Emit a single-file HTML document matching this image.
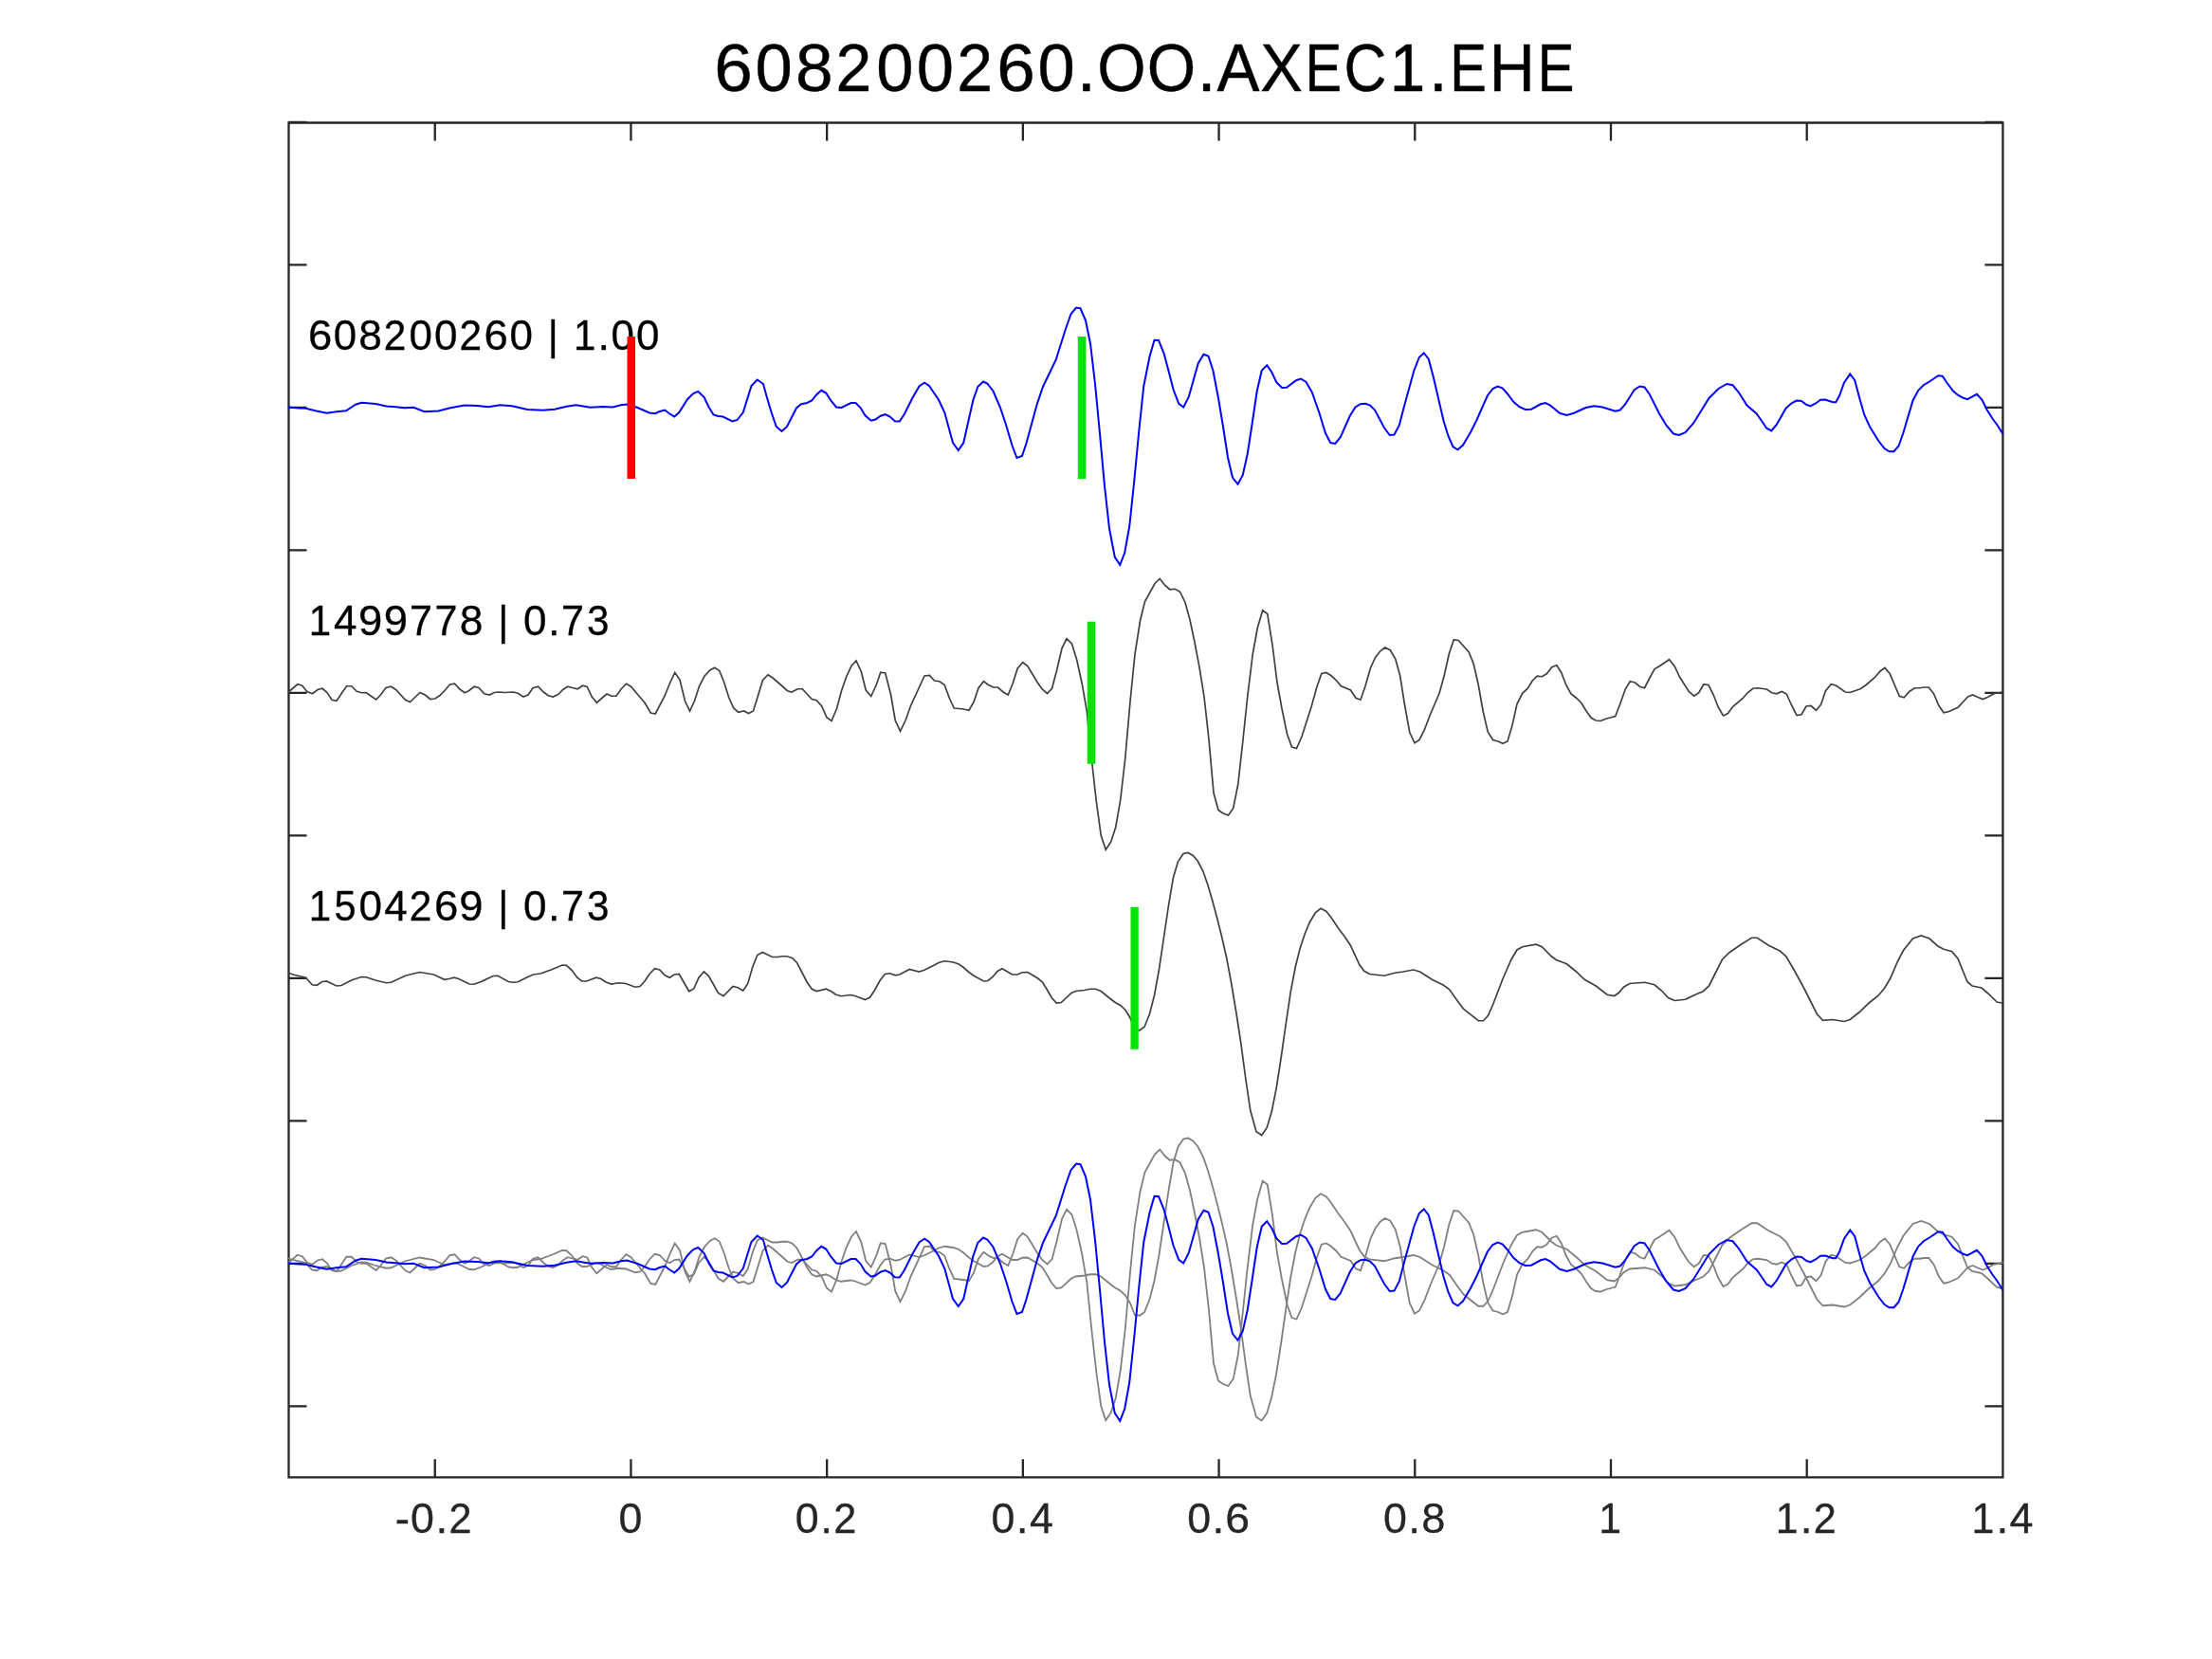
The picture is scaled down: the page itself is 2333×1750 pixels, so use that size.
<!DOCTYPE html>
<html><head><meta charset="utf-8"><style>
html,body{margin:0;padding:0;background:#fff;width:2333px;height:1750px;overflow:hidden}
svg{display:block;font-family:"Liberation Sans",sans-serif;-webkit-font-smoothing:antialiased}
svg{will-change:transform}
</style></head><body>
<svg width="2333" height="1750" viewBox="0 0 2333 1750">
<rect width="2333" height="1750" fill="#fff"/>
<text class="t" transform="matrix(1.0336 0 0 1 753.29 96.0)" font-size="70.6" fill="#000" stroke="#000" stroke-width="0.387">6</text><text class="t" transform="matrix(0.9986 0 0 1 796.54 96.0)" font-size="70.6" fill="#000" stroke="#000" stroke-width="0.401">0</text><text class="t" transform="matrix(1.0095 0 0 1 838.88 96.0)" font-size="70.6" fill="#000" stroke="#000" stroke-width="0.396">8</text><text class="t" transform="matrix(0.9626 0 0 1 881.47 96.0)" font-size="70.6" fill="#000" stroke="#000" stroke-width="0.416">2</text><text class="t" transform="matrix(0.9986 0 0 1 924.20 96.0)" font-size="70.6" fill="#000" stroke="#000" stroke-width="0.401">0</text><text class="t" transform="matrix(0.9986 0 0 1 966.75 96.0)" font-size="70.6" fill="#000" stroke="#000" stroke-width="0.401">0</text><text class="t" transform="matrix(0.9626 0 0 1 1009.13 96.0)" font-size="70.6" fill="#000" stroke="#000" stroke-width="0.416">2</text><text class="t" transform="matrix(1.0336 0 0 1 1051.17 96.0)" font-size="70.6" fill="#000" stroke="#000" stroke-width="0.387">6</text><text class="t" transform="matrix(0.9986 0 0 1 1094.41 96.0)" font-size="70.6" fill="#000" stroke="#000" stroke-width="0.401">0</text><text class="t" transform="matrix(1.0251 0 0 1 1135.85 96.0)" font-size="70.6" fill="#000" stroke="#000" stroke-width="0.390">.</text><text class="t" transform="matrix(0.9365 0 0 1 1157.19 96.0)" font-size="70.6" fill="#000" stroke="#000" stroke-width="0.427">O</text><text class="t" transform="matrix(0.9365 0 0 1 1209.84 96.0)" font-size="70.6" fill="#000" stroke="#000" stroke-width="0.427">O</text><text class="t" transform="matrix(1.0251 0 0 1 1262.40 96.0)" font-size="70.6" fill="#000" stroke="#000" stroke-width="0.390">.</text><text class="t" transform="matrix(0.9543 0 0 1 1283.51 96.0)" font-size="70.6" fill="#000" stroke="#000" stroke-width="0.419">A</text><text class="t" transform="matrix(0.9481 0 0 1 1329.36 96.0)" font-size="70.6" fill="#000" stroke="#000" stroke-width="0.422">X</text><text class="t" transform="matrix(0.8210 0 0 1 1376.50 96.0)" font-size="70.6" fill="#000" stroke="#000" stroke-width="0.487">E</text><text class="t" transform="matrix(0.8794 0 0 1 1417.55 96.0)" font-size="70.6" fill="#000" stroke="#000" stroke-width="0.455">C</text><text class="t" transform="matrix(0.9538 0 0 1 1465.87 96.0)" font-size="70.6" fill="#000" stroke="#000" stroke-width="0.419">1</text><text class="t" transform="matrix(1.0251 0 0 1 1506.75 96.0)" font-size="70.6" fill="#000" stroke="#000" stroke-width="0.390">.</text><text class="t" transform="matrix(0.8210 0 0 1 1529.28 96.0)" font-size="70.6" fill="#000" stroke="#000" stroke-width="0.487">E</text><text class="t" transform="matrix(0.9424 0 0 1 1570.83 96.0)" font-size="70.6" fill="#000" stroke="#000" stroke-width="0.424">H</text><text class="t" transform="matrix(0.8210 0 0 1 1621.83 96.0)" font-size="70.6" fill="#000" stroke="#000" stroke-width="0.487">E</text>
<path d="M304.5 129.5 L2112.4 129.5 L2112.4 1558.3 L304.5 1558.3 Z M458.74 1558.3 L458.74 1539.3 M458.74 129.5 L458.74 148.5 M665.45 1558.3 L665.45 1539.3 M665.45 129.5 L665.45 148.5 M872.16 1558.3 L872.16 1539.3 M872.16 129.5 L872.16 148.5 M1078.86 1558.3 L1078.86 1539.3 M1078.86 129.5 L1078.86 148.5 M1285.57 1558.3 L1285.57 1539.3 M1285.57 129.5 L1285.57 148.5 M1492.28 1558.3 L1492.28 1539.3 M1492.28 129.5 L1492.28 148.5 M1698.99 1558.3 L1698.99 1539.3 M1698.99 129.5 L1698.99 148.5 M1905.69 1558.3 L1905.69 1539.3 M1905.69 129.5 L1905.69 148.5 M2112.40 1558.3 L2112.40 1539.3 M2112.40 129.5 L2112.40 148.5 M304.5 128.90 L323.5 128.90 M2112.4 128.90 L2093.4 128.90 M304.5 279.40 L323.5 279.40 M2112.4 279.40 L2093.4 279.40 M304.5 429.90 L323.5 429.90 M2112.4 429.90 L2093.4 429.90 M304.5 580.40 L323.5 580.40 M2112.4 580.40 L2093.4 580.40 M304.5 730.90 L323.5 730.90 M2112.4 730.90 L2093.4 730.90 M304.5 881.40 L323.5 881.40 M2112.4 881.40 L2093.4 881.40 M304.5 1031.90 L323.5 1031.90 M2112.4 1031.90 L2093.4 1031.90 M304.5 1182.40 L323.5 1182.40 M2112.4 1182.40 L2093.4 1182.40 M304.5 1332.90 L323.5 1332.90 M2112.4 1332.90 L2093.4 1332.90 M304.5 1483.40 L323.5 1483.40 M2112.4 1483.40 L2093.4 1483.40" fill="none" stroke="#262626" stroke-width="2.3" stroke-linecap="butt"/>
<g fill="none" stroke-linejoin="miter" stroke-linecap="butt">
<path d="M303.75 429.50 L315.00 430.50 L322.50 430.75 L332.50 433.25 L344.50 435.75 L355.00 434.25 L365.00 433.25 L375.00 426.75 L381.25 424.75 L396.25 426.00 L407.50 428.50 L417.50 429.25 L426.25 430.25 L436.25 429.75 L447.50 434.25 L462.50 433.50 L475.00 430.25 L490.00 427.50 L503.75 428.00 L515.00 429.25 L527.50 427.25 L540.00 428.25 L556.25 432.00 L572.50 432.75 L585.00 431.75 L597.50 428.75 L607.50 427.25 L622.50 429.75 L636.25 429.00 L646.25 429.50 L655.00 427.25 L661.25 426.50 L672.50 430.00 L685.00 435.50 L691.25 436.25 L695.00 434.25 L701.25 432.50 L705.00 435.50 L711.25 439.50 L716.25 435.00 L725.00 421.25 L731.25 415.00 L736.25 413.00 L742.50 418.75 L747.50 429.25 L752.50 437.50 L757.50 439.00 L762.50 439.50 L772.50 444.50 L777.50 443.00 L783.75 435.00 L792.50 407.00 L798.75 400.50 L805.00 405.00 L808.75 418.75 L813.75 435.50 L818.75 450.00 L824.50 455.00 L830.00 450.00 L840.00 430.50 L845.00 426.25 L851.25 425.00 L856.25 422.50 L861.25 416.25 L866.25 411.75 L871.25 414.50 L876.25 422.50 L882.00 429.50 L887.50 430.00 L897.50 425.00 L902.50 425.00 L907.50 430.00 L912.50 438.25 L918.75 443.75 L923.25 442.50 L928.75 438.75 L933.75 437.00 L938.75 439.50 L943.75 444.25 L948.75 444.50 L953.75 437.00 L962.50 419.50 L969.50 407.50 L975.00 403.75 L980.00 407.00 L990.00 421.75 L996.25 435.00 L1005.00 467.00 L1010.75 475.00 L1016.25 467.00 L1026.25 422.50 L1031.25 408.00 L1037.00 402.50 L1041.25 404.50 L1047.50 412.50 L1055.00 430.00 L1061.25 448.75 L1067.50 470.00 L1072.50 483.00 L1078.00 481.00 L1082.50 467.50 L1093.75 426.25 L1100.00 408.00 L1105.00 397.50 L1113.75 379.50 L1123.75 347.50 L1129.50 331.25 L1135.00 324.50 L1139.50 325.25 L1145.00 338.00 L1150.00 362.50 L1155.00 405.00 L1160.00 457.50 L1165.00 512.50 L1170.00 557.50 L1175.75 587.50 L1181.25 595.75 L1186.25 583.00 L1191.25 555.00 L1196.25 507.50 L1201.25 455.00 L1206.25 407.50 L1212.50 376.25 L1217.50 358.75 L1222.00 359.00 L1227.50 372.50 L1232.50 391.25 L1237.50 410.75 L1243.25 425.75 L1248.25 429.50 L1253.75 418.75 L1263.75 383.25 L1269.50 373.75 L1274.50 375.75 L1279.50 391.25 L1285.00 420.00 L1290.00 450.00 L1295.00 482.50 L1300.00 503.75 L1305.50 510.75 L1310.75 501.25 L1315.75 478.75 L1320.75 446.25 L1325.75 412.50 L1330.75 390.75 L1336.25 385.25 L1341.25 392.50 L1346.25 403.25 L1352.00 409.00 L1357.00 408.75 L1367.00 401.25 L1372.00 399.50 L1377.50 403.00 L1383.75 413.75 L1391.25 435.00 L1398.00 457.00 L1403.25 467.00 L1408.25 468.00 L1413.75 461.25 L1423.75 438.75 L1429.50 429.50 L1435.00 426.25 L1440.00 425.75 L1445.00 427.50 L1450.00 432.50 L1460.00 451.25 L1465.75 459.00 L1470.50 458.50 L1475.75 448.75 L1481.25 427.50 L1491.25 391.25 L1496.75 377.00 L1501.75 372.50 L1506.75 378.75 L1511.75 397.50 L1522.50 443.75 L1527.50 460.00 L1532.50 471.25 L1537.50 474.25 L1543.00 469.50 L1551.25 455.50 L1557.50 443.00 L1568.75 417.50 L1574.50 410.00 L1579.50 407.50 L1584.50 409.25 L1590.00 415.50 L1596.25 423.75 L1602.50 429.25 L1608.75 432.00 L1615.00 431.75 L1625.00 426.25 L1630.00 425.00 L1635.00 427.50 L1645.00 435.75 L1652.50 438.00 L1660.00 435.75 L1672.50 430.00 L1681.25 428.25 L1690.00 429.50 L1703.75 433.75 L1708.75 432.50 L1713.75 427.00 L1723.75 411.25 L1729.50 407.50 L1734.50 408.50 L1740.00 416.25 L1750.00 436.25 L1757.50 448.75 L1765.00 457.50 L1770.75 459.00 L1777.50 456.25 L1786.25 446.25 L1802.50 420.00 L1812.50 410.00 L1821.25 405.00 L1827.50 406.25 L1833.75 413.75 L1842.50 427.50 L1852.50 436.25 L1858.75 445.00 L1863.25 451.75 L1868.25 454.50 L1873.75 448.00 L1883.75 430.50 L1890.00 425.00 L1895.00 422.50 L1900.00 423.00 L1905.00 426.75 L1909.50 428.50 L1915.00 425.50 L1920.00 421.75 L1925.00 421.50 L1933.00 424.25 L1936.25 424.25 L1940.00 417.50 L1945.00 403.75 L1951.25 394.50 L1956.25 401.25 L1961.25 420.00 L1966.25 437.50 L1972.00 450.00 L1981.25 465.00 L1987.50 473.00 L1992.50 476.25 L1997.50 476.25 L2002.50 470.50 L2007.50 456.25 L2017.50 422.50 L2023.25 411.75 L2028.75 406.25 L2035.00 402.50 L2044.25 396.25 L2048.75 396.75 L2053.75 404.25 L2060.00 412.50 L2065.00 416.75 L2070.00 419.50 L2075.00 421.25 L2085.00 415.75 L2090.50 421.75 L2095.50 432.00 L2101.25 441.25 L2106.25 448.00 L2112.50 458.00" stroke="#0000ff" stroke-width="2"/>
<path d="M303.75 730.50 L313.75 721.75 L318.75 723.25 L323.75 729.50 L329.50 731.75 L335.00 727.50 L340.00 726.25 L345.00 730.50 L350.00 738.25 L355.00 739.25 L365.50 723.75 L370.75 723.75 L376.25 729.25 L381.25 730.75 L386.25 730.50 L391.25 734.25 L396.75 738.00 L401.25 733.25 L407.00 725.50 L412.50 724.25 L417.50 727.50 L427.50 738.25 L432.50 740.50 L437.50 735.75 L443.00 730.50 L448.75 733.25 L453.75 737.50 L458.75 737.00 L463.75 733.75 L469.25 728.25 L474.50 722.00 L479.50 721.25 L485.00 727.00 L490.00 730.75 L494.50 728.75 L500.00 724.25 L505.00 725.50 L510.75 731.75 L516.25 733.00 L521.25 730.50 L526.25 730.00 L532.50 730.50 L541.25 730.00 L546.25 731.25 L552.00 735.00 L557.00 733.00 L562.00 725.75 L567.50 724.25 L573.25 730.00 L578.25 733.75 L583.25 735.00 L588.75 732.50 L593.75 727.50 L598.75 724.25 L603.75 725.50 L609.25 726.75 L614.50 723.25 L619.25 724.50 L624.25 735.00 L629.50 741.25 L635.00 736.25 L640.00 732.00 L645.00 734.25 L650.00 734.25 L655.00 727.00 L660.50 721.25 L665.50 724.25 L672.50 732.50 L680.00 741.25 L686.25 752.00 L691.25 753.00 L701.25 733.75 L706.25 721.25 L711.75 709.50 L717.00 717.00 L722.50 739.50 L727.50 750.00 L732.50 739.50 L737.50 723.75 L743.00 713.25 L748.75 707.00 L753.75 704.25 L758.75 707.50 L763.75 720.00 L768.75 735.75 L773.75 747.00 L778.75 751.25 L784.50 750.00 L789.50 752.50 L794.50 750.00 L804.50 717.50 L810.00 711.75 L815.00 715.00 L825.00 723.75 L830.50 728.75 L835.00 730.00 L841.25 726.75 L846.25 726.75 L856.25 737.50 L861.25 738.75 L866.75 745.00 L872.00 756.75 L877.00 760.50 L882.50 747.50 L887.50 728.75 L892.50 714.25 L898.00 702.50 L903.00 697.00 L908.25 708.25 L913.25 728.00 L918.75 734.50 L924.25 722.50 L928.75 709.25 L933.75 710.00 L939.50 732.50 L944.25 760.00 L949.50 771.25 L955.00 760.00 L960.50 744.50 L975.00 713.00 L980.50 712.50 L985.50 718.00 L990.75 718.75 L996.25 722.50 L1001.25 736.25 L1006.25 747.00 L1016.25 748.00 L1022.00 749.25 L1027.00 740.50 L1032.00 725.75 L1037.50 718.75 L1042.50 722.50 L1048.00 725.00 L1052.50 725.00 L1058.00 730.00 L1063.25 733.00 L1068.25 720.75 L1073.25 705.00 L1078.75 698.75 L1083.75 702.50 L1094.25 720.00 L1099.25 727.00 L1104.50 731.50 L1109.50 726.25 L1114.50 707.50 L1120.00 683.75 L1125.00 673.75 L1130.50 679.25 L1135.75 696.25 L1141.25 721.25 L1146.25 750.00 L1151.25 800.00 L1156.25 845.00 L1161.25 881.25 L1166.25 896.25 L1171.75 888.00 L1176.75 872.50 L1181.75 843.75 L1186.75 800.00 L1192.00 740.00 L1197.00 690.00 L1202.50 655.00 L1207.50 634.50 L1218.00 615.50 L1223.25 610.50 L1228.75 617.50 L1233.75 621.75 L1239.25 621.25 L1244.50 624.25 L1250.00 635.50 L1255.00 653.75 L1260.00 677.50 L1265.00 703.75 L1270.00 735.00 L1275.00 780.00 L1280.00 836.25 L1285.00 854.50 L1290.00 858.00 L1295.50 860.00 L1300.75 852.50 L1305.75 827.50 L1310.75 782.50 L1315.75 735.00 L1321.25 690.00 L1326.25 662.50 L1331.75 643.75 L1336.75 647.50 L1342.00 680.00 L1347.00 720.00 L1352.00 747.50 L1357.50 774.25 L1362.50 788.00 L1367.50 789.50 L1373.00 777.00 L1383.25 745.00 L1388.75 725.00 L1393.75 710.75 L1398.75 709.50 L1403.75 712.50 L1409.25 717.50 L1414.50 723.75 L1424.50 728.00 L1430.00 736.25 L1435.00 738.25 L1440.00 723.75 L1445.50 704.50 L1450.75 693.25 L1455.75 686.75 L1460.75 683.00 L1466.25 685.75 L1471.75 695.00 L1476.75 713.25 L1481.25 742.00 L1486.75 772.50 L1492.00 783.75 L1497.00 780.50 L1502.50 769.50 L1508.75 753.00 L1518.00 731.50 L1523.25 712.50 L1528.25 690.00 L1533.25 675.00 L1538.25 675.50 L1549.25 688.00 L1554.25 700.50 L1559.25 722.50 L1564.25 750.75 L1569.25 772.00 L1574.50 780.50 L1580.00 782.00 L1585.00 784.25 L1590.00 782.00 L1595.00 765.00 L1600.00 742.50 L1605.75 731.25 L1611.25 726.25 L1616.25 718.00 L1621.25 713.25 L1626.25 713.75 L1631.25 710.75 L1636.75 703.75 L1641.75 701.75 L1646.75 709.50 L1651.75 722.50 L1657.00 732.00 L1662.50 736.25 L1668.00 741.75 L1673.00 750.00 L1678.00 757.00 L1683.00 760.00 L1688.00 760.50 L1693.75 758.25 L1703.75 755.50 L1708.75 742.50 L1714.25 727.00 L1719.25 718.75 L1724.50 720.00 L1729.50 724.25 L1734.50 725.75 L1740.00 715.00 L1745.00 705.75 L1750.50 702.50 L1760.50 695.75 L1766.25 703.00 L1771.75 714.50 L1781.25 729.50 L1786.75 734.25 L1791.75 730.75 L1796.75 722.00 L1802.00 722.50 L1807.00 732.50 L1812.00 745.50 L1817.50 755.00 L1822.50 752.50 L1827.50 745.50 L1838.00 736.75 L1843.25 730.75 L1848.75 726.25 L1853.75 725.75 L1863.25 727.00 L1868.75 730.75 L1873.75 731.75 L1879.25 729.50 L1884.25 732.00 L1889.25 743.25 L1895.00 754.50 L1900.00 753.75 L1905.00 745.00 L1910.00 744.50 L1915.50 749.25 L1920.50 743.25 L1925.50 728.75 L1931.25 721.75 L1936.25 723.00 L1946.25 730.00 L1951.25 730.50 L1962.00 726.75 L1967.50 723.00 L1977.50 714.50 L1983.00 708.00 L1988.00 704.50 L1993.25 710.75 L2003.25 734.25 L2008.25 735.75 L2013.75 729.50 L2019.50 725.75 L2024.50 725.75 L2029.50 725.00 L2034.25 725.00 L2039.50 731.75 L2045.00 744.50 L2050.00 751.75 L2055.00 750.75 L2065.00 746.25 L2075.50 735.00 L2080.50 733.00 L2086.25 735.50 L2091.25 737.50 L2096.25 735.50 L2103.00 731.75 L2112.50 730.00" stroke="#404040" stroke-width="1.7"/>
<path d="M303.75 1026.25 L310.00 1028.25 L322.50 1031.25 L329.25 1038.75 L334.25 1039.25 L339.25 1035.75 L344.25 1035.00 L355.00 1040.00 L360.00 1039.50 L371.25 1033.75 L381.25 1030.50 L386.25 1030.75 L396.75 1034.25 L407.50 1036.75 L412.50 1036.25 L427.50 1029.25 L442.50 1025.50 L457.50 1028.00 L468.75 1033.25 L473.75 1032.50 L478.75 1031.25 L483.75 1032.50 L495.00 1038.00 L500.00 1038.25 L507.50 1035.50 L520.00 1029.50 L525.00 1029.25 L536.25 1035.50 L541.25 1036.25 L546.25 1035.75 L556.25 1030.75 L562.50 1028.00 L570.00 1027.00 L582.50 1022.50 L593.00 1018.00 L597.50 1018.25 L603.00 1023.25 L608.75 1031.25 L613.75 1035.00 L618.75 1035.00 L628.75 1031.25 L633.75 1032.50 L638.75 1035.75 L644.50 1038.00 L652.50 1036.75 L660.00 1037.50 L670.00 1041.25 L675.00 1040.50 L680.00 1035.00 L685.00 1027.50 L690.50 1021.75 L695.75 1023.00 L701.25 1028.75 L706.25 1031.25 L711.25 1028.00 L716.25 1027.50 L721.25 1036.25 L726.75 1045.75 L731.75 1043.00 L737.00 1031.25 L742.50 1025.00 L747.50 1029.50 L757.50 1047.50 L763.00 1050.75 L773.00 1040.50 L778.25 1041.75 L783.75 1045.00 L788.75 1037.50 L793.75 1020.00 L798.75 1007.50 L804.25 1004.50 L814.50 1009.50 L820.00 1009.50 L825.00 1008.75 L830.00 1008.75 L835.50 1010.50 L840.50 1015.50 L845.50 1025.00 L851.25 1036.25 L856.25 1043.25 L861.25 1045.50 L871.25 1043.25 L876.25 1045.50 L881.75 1049.25 L887.00 1050.75 L897.50 1049.50 L902.50 1050.75 L912.50 1054.50 L917.50 1052.00 L922.50 1044.50 L928.00 1034.50 L933.25 1027.50 L938.75 1026.75 L944.25 1028.75 L948.75 1028.00 L959.25 1022.50 L969.25 1025.00 L975.00 1023.25 L985.00 1018.25 L990.00 1015.50 L996.25 1013.75 L1005.50 1015.00 L1011.25 1017.00 L1016.25 1020.50 L1021.25 1025.00 L1027.00 1029.25 L1037.50 1035.00 L1042.00 1034.50 L1047.00 1030.50 L1052.00 1024.50 L1057.00 1021.75 L1062.50 1025.00 L1067.50 1028.00 L1073.00 1028.00 L1078.25 1025.75 L1083.75 1025.50 L1089.25 1028.75 L1094.25 1031.75 L1099.25 1035.75 L1104.25 1043.75 L1109.25 1052.50 L1114.25 1058.00 L1119.25 1057.50 L1130.00 1047.50 L1134.50 1045.50 L1143.75 1044.50 L1150.00 1043.25 L1155.50 1043.25 L1161.25 1045.50 L1171.25 1053.75 L1176.25 1057.50 L1182.00 1060.75 L1187.00 1065.50 L1192.00 1073.75 L1197.00 1086.25 L1202.00 1086.75 L1207.00 1083.25 L1212.50 1069.50 L1217.50 1050.00 L1222.50 1022.50 L1227.50 988.75 L1232.50 955.00 L1237.50 925.50 L1242.50 908.75 L1248.00 900.50 L1253.00 899.50 L1258.25 902.50 L1263.25 908.25 L1268.75 918.75 L1273.75 933.00 L1278.75 950.00 L1283.75 968.75 L1288.75 988.75 L1293.75 1010.75 L1298.75 1037.50 L1303.75 1067.50 L1308.75 1100.00 L1313.75 1137.50 L1318.75 1171.25 L1325.00 1193.75 L1330.75 1197.50 L1336.25 1189.50 L1341.25 1172.50 L1346.25 1147.50 L1351.25 1115.00 L1356.25 1080.00 L1361.25 1046.25 L1366.25 1020.00 L1371.25 1000.00 L1376.25 985.00 L1381.25 973.00 L1387.50 962.50 L1393.00 958.25 L1398.75 961.25 L1403.75 967.50 L1411.25 978.75 L1418.75 988.75 L1424.50 997.50 L1433.75 1017.50 L1438.75 1024.25 L1444.50 1027.50 L1460.00 1029.25 L1471.25 1026.25 L1480.00 1025.00 L1490.75 1023.00 L1497.50 1025.00 L1511.25 1033.75 L1522.50 1039.25 L1528.75 1043.75 L1537.50 1056.25 L1543.75 1064.50 L1559.25 1076.75 L1564.50 1076.75 L1569.50 1071.25 L1575.00 1058.75 L1585.00 1032.50 L1593.75 1012.50 L1600.00 1002.00 L1605.75 998.75 L1620.00 996.25 L1626.25 998.75 L1636.25 1008.75 L1641.25 1012.50 L1652.50 1016.75 L1662.50 1025.00 L1671.25 1033.25 L1683.25 1040.00 L1695.00 1049.25 L1702.50 1050.50 L1707.00 1047.50 L1712.50 1041.25 L1718.75 1037.50 L1735.00 1036.25 L1745.00 1038.75 L1752.50 1045.00 L1759.50 1052.50 L1766.25 1055.50 L1777.50 1054.25 L1787.50 1049.50 L1796.25 1045.75 L1802.50 1040.00 L1810.00 1025.00 L1816.25 1012.50 L1823.75 1005.00 L1836.25 996.25 L1847.50 989.25 L1853.25 989.25 L1865.00 997.00 L1877.50 1003.25 L1883.75 1008.75 L1892.50 1023.75 L1902.50 1042.00 L1916.25 1069.50 L1922.50 1076.25 L1933.00 1075.50 L1945.00 1077.50 L1951.25 1075.50 L1961.25 1067.50 L1971.25 1058.00 L1981.25 1050.00 L1987.50 1042.50 L1993.75 1032.00 L2001.25 1014.50 L2007.50 1002.50 L2017.50 990.00 L2026.25 987.00 L2035.00 990.00 L2043.75 998.00 L2050.00 1001.25 L2058.75 1003.75 L2065.00 1011.25 L2075.00 1035.75 L2080.00 1040.00 L2090.00 1042.00 L2096.25 1047.50 L2106.25 1057.00 L2112.50 1058.25" stroke="#404040" stroke-width="1.7"/>
<path d="M303.75 1332.50 L313.75 1323.75 L318.75 1325.25 L323.75 1331.50 L329.50 1333.75 L335.00 1329.50 L340.00 1328.25 L345.00 1332.50 L350.00 1340.25 L355.00 1341.25 L365.50 1325.75 L370.75 1325.75 L376.25 1331.25 L381.25 1332.75 L386.25 1332.50 L391.25 1336.25 L396.75 1340.00 L401.25 1335.25 L407.00 1327.50 L412.50 1326.25 L417.50 1329.50 L427.50 1340.25 L432.50 1342.50 L437.50 1337.75 L443.00 1332.50 L448.75 1335.25 L453.75 1339.50 L458.75 1339.00 L463.75 1335.75 L469.25 1330.25 L474.50 1324.00 L479.50 1323.25 L485.00 1329.00 L490.00 1332.75 L494.50 1330.75 L500.00 1326.25 L505.00 1327.50 L510.75 1333.75 L516.25 1335.00 L521.25 1332.50 L526.25 1332.00 L532.50 1332.50 L541.25 1332.00 L546.25 1333.25 L552.00 1337.00 L557.00 1335.00 L562.00 1327.75 L567.50 1326.25 L573.25 1332.00 L578.25 1335.75 L583.25 1337.00 L588.75 1334.50 L593.75 1329.50 L598.75 1326.25 L603.75 1327.50 L609.25 1328.75 L614.50 1325.25 L619.25 1326.50 L624.25 1337.00 L629.50 1343.25 L635.00 1338.25 L640.00 1334.00 L645.00 1336.25 L650.00 1336.25 L655.00 1329.00 L660.50 1323.25 L665.50 1326.25 L672.50 1334.50 L680.00 1343.25 L686.25 1354.00 L691.25 1355.00 L701.25 1335.75 L706.25 1323.25 L711.75 1311.50 L717.00 1319.00 L722.50 1341.50 L727.50 1352.00 L732.50 1341.50 L737.50 1325.75 L743.00 1315.25 L748.75 1309.00 L753.75 1306.25 L758.75 1309.50 L763.75 1322.00 L768.75 1337.75 L773.75 1349.00 L778.75 1353.25 L784.50 1352.00 L789.50 1354.50 L794.50 1352.00 L804.50 1319.50 L810.00 1313.75 L815.00 1317.00 L825.00 1325.75 L830.50 1330.75 L835.00 1332.00 L841.25 1328.75 L846.25 1328.75 L856.25 1339.50 L861.25 1340.75 L866.75 1347.00 L872.00 1358.75 L877.00 1362.50 L882.50 1349.50 L887.50 1330.75 L892.50 1316.25 L898.00 1304.50 L903.00 1299.00 L908.25 1310.25 L913.25 1330.00 L918.75 1336.50 L924.25 1324.50 L928.75 1311.25 L933.75 1312.00 L939.50 1334.50 L944.25 1362.00 L949.50 1373.25 L955.00 1362.00 L960.50 1346.50 L975.00 1315.00 L980.50 1314.50 L985.50 1320.00 L990.75 1320.75 L996.25 1324.50 L1001.25 1338.25 L1006.25 1349.00 L1016.25 1350.00 L1022.00 1351.25 L1027.00 1342.50 L1032.00 1327.75 L1037.50 1320.75 L1042.50 1324.50 L1048.00 1327.00 L1052.50 1327.00 L1058.00 1332.00 L1063.25 1335.00 L1068.25 1322.75 L1073.25 1307.00 L1078.75 1300.75 L1083.75 1304.50 L1094.25 1322.00 L1099.25 1329.00 L1104.50 1333.50 L1109.50 1328.25 L1114.50 1309.50 L1120.00 1285.75 L1125.00 1275.75 L1130.50 1281.25 L1135.75 1298.25 L1141.25 1323.25 L1146.25 1352.00 L1151.25 1402.00 L1156.25 1447.00 L1161.25 1483.25 L1166.25 1498.25 L1171.75 1490.00 L1176.75 1474.50 L1181.75 1445.75 L1186.75 1402.00 L1192.00 1342.00 L1197.00 1292.00 L1202.50 1257.00 L1207.50 1236.50 L1218.00 1217.50 L1223.25 1212.50 L1228.75 1219.50 L1233.75 1223.75 L1239.25 1223.25 L1244.50 1226.25 L1250.00 1237.50 L1255.00 1255.75 L1260.00 1279.50 L1265.00 1305.75 L1270.00 1337.00 L1275.00 1382.00 L1280.00 1438.25 L1285.00 1456.50 L1290.00 1460.00 L1295.50 1462.00 L1300.75 1454.50 L1305.75 1429.50 L1310.75 1384.50 L1315.75 1337.00 L1321.25 1292.00 L1326.25 1264.50 L1331.75 1245.75 L1336.75 1249.50 L1342.00 1282.00 L1347.00 1322.00 L1352.00 1349.50 L1357.50 1376.25 L1362.50 1390.00 L1367.50 1391.50 L1373.00 1379.00 L1383.25 1347.00 L1388.75 1327.00 L1393.75 1312.75 L1398.75 1311.50 L1403.75 1314.50 L1409.25 1319.50 L1414.50 1325.75 L1424.50 1330.00 L1430.00 1338.25 L1435.00 1340.25 L1440.00 1325.75 L1445.50 1306.50 L1450.75 1295.25 L1455.75 1288.75 L1460.75 1285.00 L1466.25 1287.75 L1471.75 1297.00 L1476.75 1315.25 L1481.25 1344.00 L1486.75 1374.50 L1492.00 1385.75 L1497.00 1382.50 L1502.50 1371.50 L1508.75 1355.00 L1518.00 1333.50 L1523.25 1314.50 L1528.25 1292.00 L1533.25 1277.00 L1538.25 1277.50 L1549.25 1290.00 L1554.25 1302.50 L1559.25 1324.50 L1564.25 1352.75 L1569.25 1374.00 L1574.50 1382.50 L1580.00 1384.00 L1585.00 1386.25 L1590.00 1384.00 L1595.00 1367.00 L1600.00 1344.50 L1605.75 1333.25 L1611.25 1328.25 L1616.25 1320.00 L1621.25 1315.25 L1626.25 1315.75 L1631.25 1312.75 L1636.75 1305.75 L1641.75 1303.75 L1646.75 1311.50 L1651.75 1324.50 L1657.00 1334.00 L1662.50 1338.25 L1668.00 1343.75 L1673.00 1352.00 L1678.00 1359.00 L1683.00 1362.00 L1688.00 1362.50 L1693.75 1360.25 L1703.75 1357.50 L1708.75 1344.50 L1714.25 1329.00 L1719.25 1320.75 L1724.50 1322.00 L1729.50 1326.25 L1734.50 1327.75 L1740.00 1317.00 L1745.00 1307.75 L1750.50 1304.50 L1760.50 1297.75 L1766.25 1305.00 L1771.75 1316.50 L1781.25 1331.50 L1786.75 1336.25 L1791.75 1332.75 L1796.75 1324.00 L1802.00 1324.50 L1807.00 1334.50 L1812.00 1347.50 L1817.50 1357.00 L1822.50 1354.50 L1827.50 1347.50 L1838.00 1338.75 L1843.25 1332.75 L1848.75 1328.25 L1853.75 1327.75 L1863.25 1329.00 L1868.75 1332.75 L1873.75 1333.75 L1879.25 1331.50 L1884.25 1334.00 L1889.25 1345.25 L1895.00 1356.50 L1900.00 1355.75 L1905.00 1347.00 L1910.00 1346.50 L1915.50 1351.25 L1920.50 1345.25 L1925.50 1330.75 L1931.25 1323.75 L1936.25 1325.00 L1946.25 1332.00 L1951.25 1332.50 L1962.00 1328.75 L1967.50 1325.00 L1977.50 1316.50 L1983.00 1310.00 L1988.00 1306.50 L1993.25 1312.75 L2003.25 1336.25 L2008.25 1337.75 L2013.75 1331.50 L2019.50 1327.75 L2024.50 1327.75 L2029.50 1327.00 L2034.25 1327.00 L2039.50 1333.75 L2045.00 1346.50 L2050.00 1353.75 L2055.00 1352.75 L2065.00 1348.25 L2075.50 1337.00 L2080.50 1335.00 L2086.25 1337.50 L2091.25 1339.50 L2096.25 1337.50 L2103.00 1333.75 L2112.50 1332.00" stroke="#808080" stroke-width="1.8"/>
<path d="M303.75 1327.25 L310.00 1329.25 L322.50 1332.25 L329.25 1339.75 L334.25 1340.25 L339.25 1336.75 L344.25 1336.00 L355.00 1341.00 L360.00 1340.50 L371.25 1334.75 L381.25 1331.50 L386.25 1331.75 L396.75 1335.25 L407.50 1337.75 L412.50 1337.25 L427.50 1330.25 L442.50 1326.50 L457.50 1329.00 L468.75 1334.25 L473.75 1333.50 L478.75 1332.25 L483.75 1333.50 L495.00 1339.00 L500.00 1339.25 L507.50 1336.50 L520.00 1330.50 L525.00 1330.25 L536.25 1336.50 L541.25 1337.25 L546.25 1336.75 L556.25 1331.75 L562.50 1329.00 L570.00 1328.00 L582.50 1323.50 L593.00 1319.00 L597.50 1319.25 L603.00 1324.25 L608.75 1332.25 L613.75 1336.00 L618.75 1336.00 L628.75 1332.25 L633.75 1333.50 L638.75 1336.75 L644.50 1339.00 L652.50 1337.75 L660.00 1338.50 L670.00 1342.25 L675.00 1341.50 L680.00 1336.00 L685.00 1328.50 L690.50 1322.75 L695.75 1324.00 L701.25 1329.75 L706.25 1332.25 L711.25 1329.00 L716.25 1328.50 L721.25 1337.25 L726.75 1346.75 L731.75 1344.00 L737.00 1332.25 L742.50 1326.00 L747.50 1330.50 L757.50 1348.50 L763.00 1351.75 L773.00 1341.50 L778.25 1342.75 L783.75 1346.00 L788.75 1338.50 L793.75 1321.00 L798.75 1308.50 L804.25 1305.50 L814.50 1310.50 L820.00 1310.50 L825.00 1309.75 L830.00 1309.75 L835.50 1311.50 L840.50 1316.50 L845.50 1326.00 L851.25 1337.25 L856.25 1344.25 L861.25 1346.50 L871.25 1344.25 L876.25 1346.50 L881.75 1350.25 L887.00 1351.75 L897.50 1350.50 L902.50 1351.75 L912.50 1355.50 L917.50 1353.00 L922.50 1345.50 L928.00 1335.50 L933.25 1328.50 L938.75 1327.75 L944.25 1329.75 L948.75 1329.00 L959.25 1323.50 L969.25 1326.00 L975.00 1324.25 L985.00 1319.25 L990.00 1316.50 L996.25 1314.75 L1005.50 1316.00 L1011.25 1318.00 L1016.25 1321.50 L1021.25 1326.00 L1027.00 1330.25 L1037.50 1336.00 L1042.00 1335.50 L1047.00 1331.50 L1052.00 1325.50 L1057.00 1322.75 L1062.50 1326.00 L1067.50 1329.00 L1073.00 1329.00 L1078.25 1326.75 L1083.75 1326.50 L1089.25 1329.75 L1094.25 1332.75 L1099.25 1336.75 L1104.25 1344.75 L1109.25 1353.50 L1114.25 1359.00 L1119.25 1358.50 L1130.00 1348.50 L1134.50 1346.50 L1143.75 1345.50 L1150.00 1344.25 L1155.50 1344.25 L1161.25 1346.50 L1171.25 1354.75 L1176.25 1358.50 L1182.00 1361.75 L1187.00 1366.50 L1192.00 1374.75 L1197.00 1387.25 L1202.00 1387.75 L1207.00 1384.25 L1212.50 1370.50 L1217.50 1351.00 L1222.50 1323.50 L1227.50 1289.75 L1232.50 1256.00 L1237.50 1226.50 L1242.50 1209.75 L1248.00 1201.50 L1253.00 1200.50 L1258.25 1203.50 L1263.25 1209.25 L1268.75 1219.75 L1273.75 1234.00 L1278.75 1251.00 L1283.75 1269.75 L1288.75 1289.75 L1293.75 1311.75 L1298.75 1338.50 L1303.75 1368.50 L1308.75 1401.00 L1313.75 1438.50 L1318.75 1472.25 L1325.00 1494.75 L1330.75 1498.50 L1336.25 1490.50 L1341.25 1473.50 L1346.25 1448.50 L1351.25 1416.00 L1356.25 1381.00 L1361.25 1347.25 L1366.25 1321.00 L1371.25 1301.00 L1376.25 1286.00 L1381.25 1274.00 L1387.50 1263.50 L1393.00 1259.25 L1398.75 1262.25 L1403.75 1268.50 L1411.25 1279.75 L1418.75 1289.75 L1424.50 1298.50 L1433.75 1318.50 L1438.75 1325.25 L1444.50 1328.50 L1460.00 1330.25 L1471.25 1327.25 L1480.00 1326.00 L1490.75 1324.00 L1497.50 1326.00 L1511.25 1334.75 L1522.50 1340.25 L1528.75 1344.75 L1537.50 1357.25 L1543.75 1365.50 L1559.25 1377.75 L1564.50 1377.75 L1569.50 1372.25 L1575.00 1359.75 L1585.00 1333.50 L1593.75 1313.50 L1600.00 1303.00 L1605.75 1299.75 L1620.00 1297.25 L1626.25 1299.75 L1636.25 1309.75 L1641.25 1313.50 L1652.50 1317.75 L1662.50 1326.00 L1671.25 1334.25 L1683.25 1341.00 L1695.00 1350.25 L1702.50 1351.50 L1707.00 1348.50 L1712.50 1342.25 L1718.75 1338.50 L1735.00 1337.25 L1745.00 1339.75 L1752.50 1346.00 L1759.50 1353.50 L1766.25 1356.50 L1777.50 1355.25 L1787.50 1350.50 L1796.25 1346.75 L1802.50 1341.00 L1810.00 1326.00 L1816.25 1313.50 L1823.75 1306.00 L1836.25 1297.25 L1847.50 1290.25 L1853.25 1290.25 L1865.00 1298.00 L1877.50 1304.25 L1883.75 1309.75 L1892.50 1324.75 L1902.50 1343.00 L1916.25 1370.50 L1922.50 1377.25 L1933.00 1376.50 L1945.00 1378.50 L1951.25 1376.50 L1961.25 1368.50 L1971.25 1359.00 L1981.25 1351.00 L1987.50 1343.50 L1993.75 1333.00 L2001.25 1315.50 L2007.50 1303.50 L2017.50 1291.00 L2026.25 1288.00 L2035.00 1291.00 L2043.75 1299.00 L2050.00 1302.25 L2058.75 1304.75 L2065.00 1312.25 L2075.00 1336.75 L2080.00 1341.00 L2090.00 1343.00 L2096.25 1348.50 L2106.25 1358.00 L2112.50 1359.25" stroke="#808080" stroke-width="1.8"/>
<path d="M303.75 1332.50 L315.00 1333.50 L322.50 1333.75 L332.50 1336.25 L344.50 1338.75 L355.00 1337.25 L365.00 1336.25 L375.00 1329.75 L381.25 1327.75 L396.25 1329.00 L407.50 1331.50 L417.50 1332.25 L426.25 1333.25 L436.25 1332.75 L447.50 1337.25 L462.50 1336.50 L475.00 1333.25 L490.00 1330.50 L503.75 1331.00 L515.00 1332.25 L527.50 1330.25 L540.00 1331.25 L556.25 1335.00 L572.50 1335.75 L585.00 1334.75 L597.50 1331.75 L607.50 1330.25 L622.50 1332.75 L636.25 1332.00 L646.25 1332.50 L655.00 1330.25 L661.25 1329.50 L672.50 1333.00 L685.00 1338.50 L691.25 1339.25 L695.00 1337.25 L701.25 1335.50 L705.00 1338.50 L711.25 1342.50 L716.25 1338.00 L725.00 1324.25 L731.25 1318.00 L736.25 1316.00 L742.50 1321.75 L747.50 1332.25 L752.50 1340.50 L757.50 1342.00 L762.50 1342.50 L772.50 1347.50 L777.50 1346.00 L783.75 1338.00 L792.50 1310.00 L798.75 1303.50 L805.00 1308.00 L808.75 1321.75 L813.75 1338.50 L818.75 1353.00 L824.50 1358.00 L830.00 1353.00 L840.00 1333.50 L845.00 1329.25 L851.25 1328.00 L856.25 1325.50 L861.25 1319.25 L866.25 1314.75 L871.25 1317.50 L876.25 1325.50 L882.00 1332.50 L887.50 1333.00 L897.50 1328.00 L902.50 1328.00 L907.50 1333.00 L912.50 1341.25 L918.75 1346.75 L923.25 1345.50 L928.75 1341.75 L933.75 1340.00 L938.75 1342.50 L943.75 1347.25 L948.75 1347.50 L953.75 1340.00 L962.50 1322.50 L969.50 1310.50 L975.00 1306.75 L980.00 1310.00 L990.00 1324.75 L996.25 1338.00 L1005.00 1370.00 L1010.75 1378.00 L1016.25 1370.00 L1026.25 1325.50 L1031.25 1311.00 L1037.00 1305.50 L1041.25 1307.50 L1047.50 1315.50 L1055.00 1333.00 L1061.25 1351.75 L1067.50 1373.00 L1072.50 1386.00 L1078.00 1384.00 L1082.50 1370.50 L1093.75 1329.25 L1100.00 1311.00 L1105.00 1300.50 L1113.75 1282.50 L1123.75 1250.50 L1129.50 1234.25 L1135.00 1227.50 L1139.50 1228.25 L1145.00 1241.00 L1150.00 1265.50 L1155.00 1308.00 L1160.00 1360.50 L1165.00 1415.50 L1170.00 1460.50 L1175.75 1490.50 L1181.25 1498.75 L1186.25 1486.00 L1191.25 1458.00 L1196.25 1410.50 L1201.25 1358.00 L1206.25 1310.50 L1212.50 1279.25 L1217.50 1261.75 L1222.00 1262.00 L1227.50 1275.50 L1232.50 1294.25 L1237.50 1313.75 L1243.25 1328.75 L1248.25 1332.50 L1253.75 1321.75 L1263.75 1286.25 L1269.50 1276.75 L1274.50 1278.75 L1279.50 1294.25 L1285.00 1323.00 L1290.00 1353.00 L1295.00 1385.50 L1300.00 1406.75 L1305.50 1413.75 L1310.75 1404.25 L1315.75 1381.75 L1320.75 1349.25 L1325.75 1315.50 L1330.75 1293.75 L1336.25 1288.25 L1341.25 1295.50 L1346.25 1306.25 L1352.00 1312.00 L1357.00 1311.75 L1367.00 1304.25 L1372.00 1302.50 L1377.50 1306.00 L1383.75 1316.75 L1391.25 1338.00 L1398.00 1360.00 L1403.25 1370.00 L1408.25 1371.00 L1413.75 1364.25 L1423.75 1341.75 L1429.50 1332.50 L1435.00 1329.25 L1440.00 1328.75 L1445.00 1330.50 L1450.00 1335.50 L1460.00 1354.25 L1465.75 1362.00 L1470.50 1361.50 L1475.75 1351.75 L1481.25 1330.50 L1491.25 1294.25 L1496.75 1280.00 L1501.75 1275.50 L1506.75 1281.75 L1511.75 1300.50 L1522.50 1346.75 L1527.50 1363.00 L1532.50 1374.25 L1537.50 1377.25 L1543.00 1372.50 L1551.25 1358.50 L1557.50 1346.00 L1568.75 1320.50 L1574.50 1313.00 L1579.50 1310.50 L1584.50 1312.25 L1590.00 1318.50 L1596.25 1326.75 L1602.50 1332.25 L1608.75 1335.00 L1615.00 1334.75 L1625.00 1329.25 L1630.00 1328.00 L1635.00 1330.50 L1645.00 1338.75 L1652.50 1341.00 L1660.00 1338.75 L1672.50 1333.00 L1681.25 1331.25 L1690.00 1332.50 L1703.75 1336.75 L1708.75 1335.50 L1713.75 1330.00 L1723.75 1314.25 L1729.50 1310.50 L1734.50 1311.50 L1740.00 1319.25 L1750.00 1339.25 L1757.50 1351.75 L1765.00 1360.50 L1770.75 1362.00 L1777.50 1359.25 L1786.25 1349.25 L1802.50 1323.00 L1812.50 1313.00 L1821.25 1308.00 L1827.50 1309.25 L1833.75 1316.75 L1842.50 1330.50 L1852.50 1339.25 L1858.75 1348.00 L1863.25 1354.75 L1868.25 1357.50 L1873.75 1351.00 L1883.75 1333.50 L1890.00 1328.00 L1895.00 1325.50 L1900.00 1326.00 L1905.00 1329.75 L1909.50 1331.50 L1915.00 1328.50 L1920.00 1324.75 L1925.00 1324.50 L1933.00 1327.25 L1936.25 1327.25 L1940.00 1320.50 L1945.00 1306.75 L1951.25 1297.50 L1956.25 1304.25 L1961.25 1323.00 L1966.25 1340.50 L1972.00 1353.00 L1981.25 1368.00 L1987.50 1376.00 L1992.50 1379.25 L1997.50 1379.25 L2002.50 1373.50 L2007.50 1359.25 L2017.50 1325.50 L2023.25 1314.75 L2028.75 1309.25 L2035.00 1305.50 L2044.25 1299.25 L2048.75 1299.75 L2053.75 1307.25 L2060.00 1315.50 L2065.00 1319.75 L2070.00 1322.50 L2075.00 1324.25 L2085.00 1318.75 L2090.50 1324.75 L2095.50 1335.00 L2101.25 1344.25 L2106.25 1351.00 L2112.50 1361.00" stroke="#0000ff" stroke-width="2"/>
</g>
<text class="t" transform="matrix(1.0223 0 0 1 324.89 369.0)" font-size="44.5" fill="#000" stroke="#000" stroke-width="0.293">6</text><text class="t" transform="matrix(0.9878 0 0 1 351.85 369.0)" font-size="44.5" fill="#000" stroke="#000" stroke-width="0.304">0</text><text class="t" transform="matrix(0.9985 0 0 1 378.25 369.0)" font-size="44.5" fill="#000" stroke="#000" stroke-width="0.300">8</text><text class="t" transform="matrix(0.9521 0 0 1 404.80 369.0)" font-size="44.5" fill="#000" stroke="#000" stroke-width="0.315">2</text><text class="t" transform="matrix(0.9878 0 0 1 431.44 369.0)" font-size="44.5" fill="#000" stroke="#000" stroke-width="0.304">0</text><text class="t" transform="matrix(0.9878 0 0 1 457.97 369.0)" font-size="44.5" fill="#000" stroke="#000" stroke-width="0.304">0</text><text class="t" transform="matrix(0.9521 0 0 1 484.39 369.0)" font-size="44.5" fill="#000" stroke="#000" stroke-width="0.315">2</text><text class="t" transform="matrix(1.0223 0 0 1 510.60 369.0)" font-size="44.5" fill="#000" stroke="#000" stroke-width="0.293">6</text><text class="t" transform="matrix(0.9878 0 0 1 537.56 369.0)" font-size="44.5" fill="#000" stroke="#000" stroke-width="0.304">0</text><text class="t" transform="matrix(0.9596 0 0 1 577.80 369.0)" font-size="44.5" fill="#000" stroke="#000" stroke-width="0.313">|</text><text class="t" transform="matrix(0.9434 0 0 1 605.01 369.0)" font-size="44.5" fill="#000" stroke="#000" stroke-width="0.318">1</text><text class="t" transform="matrix(1.0140 0 0 1 630.49 369.0)" font-size="44.5" fill="#000" stroke="#000" stroke-width="0.296">.</text><text class="t" transform="matrix(0.9878 0 0 1 644.44 369.0)" font-size="44.5" fill="#000" stroke="#000" stroke-width="0.304">0</text><text class="t" transform="matrix(0.9878 0 0 1 670.97 369.0)" font-size="44.5" fill="#000" stroke="#000" stroke-width="0.304">0</text>
<text class="t" transform="matrix(0.9450 0 0 1 325.80 670.0)" font-size="44.5" fill="#000" stroke="#000" stroke-width="0.317">1</text><text class="t" transform="matrix(0.9895 0 0 1 352.01 670.0)" font-size="44.5" fill="#000" stroke="#000" stroke-width="0.303">4</text><text class="t" transform="matrix(1.0219 0 0 1 378.06 670.0)" font-size="44.5" fill="#000" stroke="#000" stroke-width="0.294">9</text><text class="t" transform="matrix(1.0219 0 0 1 404.63 670.0)" font-size="44.5" fill="#000" stroke="#000" stroke-width="0.294">9</text><text class="t" transform="matrix(0.9678 0 0 1 431.92 670.0)" font-size="44.5" fill="#000" stroke="#000" stroke-width="0.310">7</text><text class="t" transform="matrix(0.9678 0 0 1 458.50 670.0)" font-size="44.5" fill="#000" stroke="#000" stroke-width="0.310">7</text><text class="t" transform="matrix(1.0001 0 0 1 484.75 670.0)" font-size="44.5" fill="#000" stroke="#000" stroke-width="0.300">8</text><text class="t" transform="matrix(0.9612 0 0 1 525.18 670.0)" font-size="44.5" fill="#000" stroke="#000" stroke-width="0.312">|</text><text class="t" transform="matrix(0.9894 0 0 1 552.08 670.0)" font-size="44.5" fill="#000" stroke="#000" stroke-width="0.303">0</text><text class="t" transform="matrix(1.0156 0 0 1 577.96 670.0)" font-size="44.5" fill="#000" stroke="#000" stroke-width="0.295">.</text><text class="t" transform="matrix(0.9678 0 0 1 592.12 670.0)" font-size="44.5" fill="#000" stroke="#000" stroke-width="0.310">7</text><text class="t" transform="matrix(0.9502 0 0 1 619.04 670.0)" font-size="44.5" fill="#000" stroke="#000" stroke-width="0.316">3</text>
<text class="t" transform="matrix(0.9450 0 0 1 325.80 971.0)" font-size="44.5" fill="#000" stroke="#000" stroke-width="0.317">1</text><text class="t" transform="matrix(0.9337 0 0 1 352.54 971.0)" font-size="44.5" fill="#000" stroke="#000" stroke-width="0.321">5</text><text class="t" transform="matrix(0.9894 0 0 1 378.59 971.0)" font-size="44.5" fill="#000" stroke="#000" stroke-width="0.303">0</text><text class="t" transform="matrix(0.9895 0 0 1 405.16 971.0)" font-size="44.5" fill="#000" stroke="#000" stroke-width="0.303">4</text><text class="t" transform="matrix(0.9537 0 0 1 431.63 971.0)" font-size="44.5" fill="#000" stroke="#000" stroke-width="0.315">2</text><text class="t" transform="matrix(1.0240 0 0 1 457.88 971.0)" font-size="44.5" fill="#000" stroke="#000" stroke-width="0.293">6</text><text class="t" transform="matrix(1.0219 0 0 1 484.35 971.0)" font-size="44.5" fill="#000" stroke="#000" stroke-width="0.294">9</text><text class="t" transform="matrix(0.9612 0 0 1 525.18 971.0)" font-size="44.5" fill="#000" stroke="#000" stroke-width="0.312">|</text><text class="t" transform="matrix(0.9894 0 0 1 552.08 971.0)" font-size="44.5" fill="#000" stroke="#000" stroke-width="0.303">0</text><text class="t" transform="matrix(1.0156 0 0 1 577.96 971.0)" font-size="44.5" fill="#000" stroke="#000" stroke-width="0.295">.</text><text class="t" transform="matrix(0.9678 0 0 1 592.12 971.0)" font-size="44.5" fill="#000" stroke="#000" stroke-width="0.310">7</text><text class="t" transform="matrix(0.9502 0 0 1 619.04 971.0)" font-size="44.5" fill="#000" stroke="#000" stroke-width="0.316">3</text>
<rect x="661.5" y="355" width="8.5" height="150" fill="#ff0000"/>
<rect x="1136.8" y="355" width="8.5" height="150" fill="#00e400"/>
<rect x="1146.8" y="655.75" width="8.5" height="150" fill="#00e400"/>
<rect x="1192.5" y="956.75" width="8.25" height="150" fill="#00e400"/>
<text class="t" transform="matrix(1.0460 0 0 1 416.72 1617.0)" font-size="43.8" fill="#262626" stroke="#262626" stroke-width="0.287">-</text><text class="t" transform="matrix(1.0228 0 0 1 433.07 1617.0)" font-size="43.8" fill="#262626" stroke="#262626" stroke-width="0.293">0</text><text class="t" transform="matrix(1.0499 0 0 1 459.40 1617.0)" font-size="43.8" fill="#262626" stroke="#262626" stroke-width="0.286">.</text><text class="t" transform="matrix(0.9859 0 0 1 473.51 1617.0)" font-size="43.8" fill="#262626" stroke="#262626" stroke-width="0.304">2</text>
<text class="t" transform="matrix(1.0228 0 0 1 652.38 1617.0)" font-size="43.8" fill="#262626" stroke="#262626" stroke-width="0.293">0</text>
<text class="t" transform="matrix(1.0228 0 0 1 838.81 1617.0)" font-size="43.8" fill="#262626" stroke="#262626" stroke-width="0.293">0</text><text class="t" transform="matrix(1.0499 0 0 1 865.15 1617.0)" font-size="43.8" fill="#262626" stroke="#262626" stroke-width="0.286">.</text><text class="t" transform="matrix(0.9859 0 0 1 879.25 1617.0)" font-size="43.8" fill="#262626" stroke="#262626" stroke-width="0.304">2</text>
<text class="t" transform="matrix(1.0228 0 0 1 1045.52 1617.0)" font-size="43.8" fill="#262626" stroke="#262626" stroke-width="0.293">0</text><text class="t" transform="matrix(1.0499 0 0 1 1071.86 1617.0)" font-size="43.8" fill="#262626" stroke="#262626" stroke-width="0.286">.</text><text class="t" transform="matrix(1.0230 0 0 1 1086.07 1617.0)" font-size="43.8" fill="#262626" stroke="#262626" stroke-width="0.293">4</text>
<text class="t" transform="matrix(1.0228 0 0 1 1252.23 1617.0)" font-size="43.8" fill="#262626" stroke="#262626" stroke-width="0.293">0</text><text class="t" transform="matrix(1.0499 0 0 1 1278.56 1617.0)" font-size="43.8" fill="#262626" stroke="#262626" stroke-width="0.286">.</text><text class="t" transform="matrix(1.0586 0 0 1 1292.34 1617.0)" font-size="43.8" fill="#262626" stroke="#262626" stroke-width="0.283">6</text>
<text class="t" transform="matrix(1.0228 0 0 1 1458.94 1617.0)" font-size="43.8" fill="#262626" stroke="#262626" stroke-width="0.293">0</text><text class="t" transform="matrix(1.0499 0 0 1 1485.27 1617.0)" font-size="43.8" fill="#262626" stroke="#262626" stroke-width="0.286">.</text><text class="t" transform="matrix(1.0339 0 0 1 1499.35 1617.0)" font-size="43.8" fill="#262626" stroke="#262626" stroke-width="0.290">8</text>
<text class="t" transform="matrix(0.9769 0 0 1 1686.28 1617.0)" font-size="43.8" fill="#262626" stroke="#262626" stroke-width="0.307">1</text>
<text class="t" transform="matrix(0.9769 0 0 1 1872.71 1617.0)" font-size="43.8" fill="#262626" stroke="#262626" stroke-width="0.307">1</text><text class="t" transform="matrix(1.0499 0 0 1 1898.68 1617.0)" font-size="43.8" fill="#262626" stroke="#262626" stroke-width="0.286">.</text><text class="t" transform="matrix(0.9859 0 0 1 1912.79 1617.0)" font-size="43.8" fill="#262626" stroke="#262626" stroke-width="0.304">2</text>
<text class="t" transform="matrix(0.9769 0 0 1 2079.42 1617.0)" font-size="43.8" fill="#262626" stroke="#262626" stroke-width="0.307">1</text><text class="t" transform="matrix(1.0499 0 0 1 2105.39 1617.0)" font-size="43.8" fill="#262626" stroke="#262626" stroke-width="0.286">.</text><text class="t" transform="matrix(1.0230 0 0 1 2119.60 1617.0)" font-size="43.8" fill="#262626" stroke="#262626" stroke-width="0.293">4</text>
</svg>
</body></html>
